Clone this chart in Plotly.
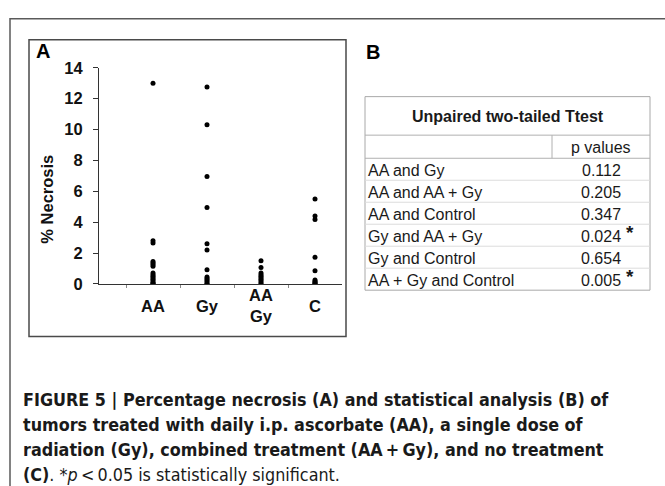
import plotly.graph_objects as go

W, H = 665, 486

# ---- data ----
categories = ["AA", "Gy", "AA<br>Gy", "C"]
aa_vals = [13.0, 2.8, 2.65, 1.45, 1.35, 1.25, 1.15, 0.7, 0.6, 0.5, 0.4, 0.3, 0.2, 0.1, 0.05, 0.0]
gy_vals = [12.75, 10.3, 6.95, 4.95, 2.6, 2.2, 0.92, 0.45, 0.35, 0.25, 0.15, 0.05, 0.0]
aagy_vals = [1.5, 1.06, 0.7, 0.6, 0.5, 0.4, 0.3, 0.2, 0.1, 0.0]
c_vals = [5.5, 4.4, 4.18, 1.72, 0.86, 0.25, 0.18, 0.1, 0.05, 0.0]
series = [aa_vals, gy_vals, aagy_vals, c_vals]

y_ticks = [0, 2, 4, 6, 8, 10, 12, 14]

table_title = "Unpaired two-tailed Ttest"
table_col_header = "p values"
comparisons = ["AA and Gy", "AA and AA + Gy", "AA and Control",
               "Gy and AA + Gy", "Gy and Control", "AA + Gy and Control"]
p_values = ["0.112", "0.205", "0.347", "0.024", "0.654", "0.005"]
significant = [False, False, False, True, False, True]

caption_lines = [
    "<b>FIGURE 5 | Percentage necrosis (A) and statistical analysis (B) of</b>",
    "<b>tumors treated with daily i.p. ascorbate (AA), a single dose of</b>",
    "<b>radiation (Gy), combined treatment (AA\u2009+\u2009Gy), and no treatment</b>",
    "<b>(C)</b>. *<i>p</i>\u2009&lt;\u20090.05 is statistically significant.",
]


def px(x):
    return x / W


def py(y):
    return 1 - y / H


fig = go.Figure()

for i, vals in enumerate(series):
    fig.add_trace(go.Scatter(
        x=[i + 1] * len(vals), y=vals, mode="markers",
        marker=dict(color="black", size=5, symbol="circle"),
        showlegend=False, hoverinfo="y",
    ))

ARIAL = "Liberation Sans, Arial, sans-serif"
CAPFONT = "DejaVu Sans Condensed, Liberation Sans Narrow, Arial Narrow, sans-serif"

fig.update_layout(
    width=W, height=H,
    margin=dict(l=0, r=0, t=0, b=0),
    paper_bgcolor="white", plot_bgcolor="white",
    xaxis=dict(
        domain=[px(99), px(342)], range=[0, 4.5],
        showgrid=False, zeroline=False, showline=True, linecolor="#333333", linewidth=1.2,
        showticklabels=False, ticks="",
        tickvals=[1, 2, 3, 4],
        minor=dict(tickvals=[0.5, 1.5, 2.5, 3.5], ticks="outside", ticklen=3,
                   tickcolor="#888888", tickwidth=1),
    ),
    yaxis=dict(
        domain=[py(285.5), py(61)], range=[0, 14],
        tickvals=y_ticks, ticks="outside", ticklen=5, tickcolor="#333333",
        showgrid=False, zeroline=False, showline=True, linecolor="#333333", linewidth=1.2,
        tickfont=dict(family=ARIAL, size=16.5, color="#111111", weight="bold"),
        ticklabelstandoff=7,
    ),
)

shapes = []
# outer frame
shapes.append(dict(type="rect", xref="paper", yref="paper",
                   x0=px(10), x1=px(720), y0=py(10), y1=py(540),
                   line=dict(color="#5a5a5a", width=1.5)))
# panel A frame
shapes.append(dict(type="rect", xref="paper", yref="paper",
                   x0=px(29), x1=px(346), y0=py(32), y1=py(340),
                   line=dict(color="#4a4a4a", width=1.5)))

# table geometry
tl, tr, tt = 365, 650, 91
hdr_b, col_b = 131, 155
row_h = (292 - col_b) / len(comparisons)
tb = col_b + row_h * len(comparisons)
div_x = 552
shapes.append(dict(type="rect", xref="paper", yref="paper",
                   x0=px(tl), x1=px(tr), y0=py(tt), y1=py(tb),
                   line=dict(color="#a8a8a8", width=1)))
for yline in [hdr_b, col_b]:
    shapes.append(dict(type="line", xref="paper", yref="paper",
                       x0=px(tl), x1=px(tr), y0=py(yline), y1=py(yline),
                       line=dict(color="#b0b0b0", width=1)))
for k in range(1, len(comparisons)):
    yline = col_b + row_h * k
    shapes.append(dict(type="line", xref="paper", yref="paper",
                       x0=px(tl), x1=px(tr), y0=py(yline), y1=py(yline),
                       line=dict(color="#dcdcdc", width=1)))
shapes.append(dict(type="line", xref="paper", yref="paper",
                   x0=px(div_x), x1=px(div_x), y0=py(hdr_b), y1=py(col_b),
                   line=dict(color="#b0b0b0", width=1)))

annotations = []
# category labels (placed on the x scale)
for i, cat in enumerate(categories):
    annotations.append(dict(x=i + 1, xref="x", y=py(308), yref="paper",
                            text=f"<b>{cat}</b>", showarrow=False,
                            xanchor="center", yanchor="middle",
                            font=dict(family=ARIAL, size=16.5, color="#111111")))
# y title
annotations.append(dict(x=px(47), y=py(198), xref="paper", yref="paper",
                        text="<b>% Necrosis</b>", textangle=-90, showarrow=False,
                        xanchor="center", yanchor="middle",
                        font=dict(family=ARIAL, size=16.5, color="#111111")))
# panel letters
annotations.append(dict(x=px(43), y=py(44), xref="paper", yref="paper",
                        text="<b>A</b>", showarrow=False, xanchor="center", yanchor="middle",
                        font=dict(family=ARIAL, size=20, color="black")))
annotations.append(dict(x=px(373), y=py(45), xref="paper", yref="paper",
                        text="<b>B</b>", showarrow=False, xanchor="center", yanchor="middle",
                        font=dict(family=ARIAL, size=20, color="black")))
# table text
annotations.append(dict(x=px((tl + tr) / 2), y=py((tt + hdr_b) / 2 + 1), xref="paper", yref="paper",
                        text=f"<b>{table_title}</b>", showarrow=False,
                        xanchor="center", yanchor="middle",
                        font=dict(family=ARIAL, size=16, color="#1a1a1a")))
annotations.append(dict(x=px((div_x + tr) / 2), y=py((hdr_b + col_b) / 2 + 1), xref="paper", yref="paper",
                        text=table_col_header, showarrow=False,
                        xanchor="center", yanchor="middle",
                        font=dict(family=ARIAL, size=16, color="#1a1a1a")))
for k, (comp, pv, sig) in enumerate(zip(comparisons, p_values, significant)):
    yc = col_b + row_h * (k + 0.5) + 1
    annotations.append(dict(x=px(tl + 1), y=py(yc), xref="paper", yref="paper",
                            text=comp, showarrow=False, xanchor="left", yanchor="middle",
                            font=dict(family=ARIAL, size=16, color="#1a1a1a")))
    annotations.append(dict(x=px((div_x + tr) / 2), y=py(yc), xref="paper", yref="paper",
                            text=pv, showarrow=False, xanchor="center", yanchor="middle",
                            font=dict(family=ARIAL, size=16, color="#1a1a1a")))
    if sig:
        annotations.append(dict(x=px(624), y=py(yc - 4), xref="paper", yref="paper",
                                text="<b>*</b>", showarrow=False, xanchor="left", yanchor="middle",
                                font=dict(family=ARIAL, size=19, color="#1a1a1a")))
# caption
cap_y = [405, 431, 457, 483]
for line, yy in zip(caption_lines, cap_y):
    annotations.append(dict(x=px(21), y=py(yy), xref="paper", yref="paper",
                            text=line, showarrow=False, xanchor="left", yanchor="middle",
                            font=dict(family=CAPFONT, size=17.8, color="#1a1a1a")))

fig.update_layout(shapes=shapes, annotations=annotations)
fig.write_html("out.html")
